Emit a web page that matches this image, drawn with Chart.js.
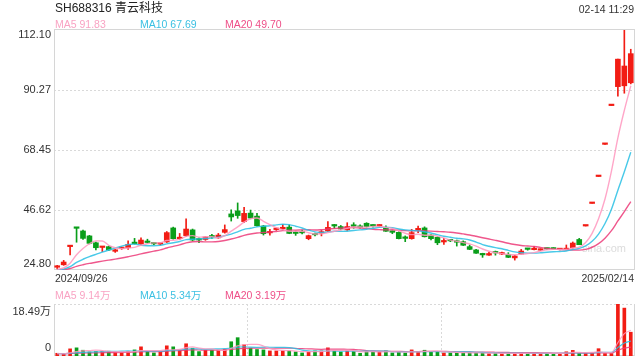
<!DOCTYPE html>
<html><head><meta charset="utf-8">
<script src="https://cdn.jsdelivr.net/npm/chart.js@4.4.1/dist/chart.umd.min.js"></script>
<style>
html,body{margin:0;padding:0;background:#fff;width:640px;height:360px;overflow:hidden;font-family:"Liberation Sans",Arial,"Noto Sans CJK SC",sans-serif;}
#wrap{position:relative;width:640px;height:360px;}
.t{position:absolute;white-space:nowrap;line-height:14px;height:14px;font-size:10.5px;color:#333;}
#pc{position:absolute;left:0;top:0;}
#vc{position:absolute;left:0;top:280px;}
</style></head><body>
<div id="wrap">
<canvas id="pc" width="640" height="280"></canvas>
<canvas id="vc" width="640" height="80"></canvas>
<div class="t" id="title" style="left:55px;top:1px;font-size:12px;color:#222"></div>
<div class="t" id="time" style="right:6px;top:2px;"></div>
<div class="t" id="pl0" style="left:55px;top:17px;"></div>
<div class="t" id="pl1" style="left:140px;top:17px;"></div>
<div class="t" id="pl2" style="left:225px;top:17px;"></div>
<div class="t" id="d0" style="left:55px;top:271px;"></div>
<div class="t" id="d1" style="right:6px;top:271px;"></div>
<div class="t" id="vl0" style="left:55px;top:288px;"></div>
<div class="t" id="vl1" style="left:140px;top:288px;"></div>
<div class="t" id="vl2" style="left:225px;top:288px;"></div>
</div>
<script>
const titleText = 'SH688316 青云科技';
const timeText = '02-14 11:29';
const priceLegend = ['MA5 91.83', 'MA10 67.69', 'MA20 49.70'];
const volLegend = ['MA5 9.14万', 'MA10 5.34万', 'MA20 3.19万'];
const maPeriods = [5, 10, 20];

const categories = ['2024/09/26','2024/09/27','2024/09/30',
'2024/10/08','2024/10/09','2024/10/10','2024/10/11','2024/10/14','2024/10/15','2024/10/16','2024/10/17','2024/10/18','2024/10/21','2024/10/22','2024/10/23','2024/10/24','2024/10/25','2024/10/28','2024/10/29','2024/10/30','2024/10/31',
'2024/11/01','2024/11/04','2024/11/05','2024/11/06','2024/11/07','2024/11/08','2024/11/11','2024/11/12','2024/11/13','2024/11/14','2024/11/15','2024/11/18','2024/11/19','2024/11/20','2024/11/21','2024/11/22','2024/11/25','2024/11/26','2024/11/27','2024/11/28','2024/11/29',
'2024/12/02','2024/12/03','2024/12/04','2024/12/05','2024/12/06','2024/12/09','2024/12/10','2024/12/11','2024/12/12','2024/12/13','2024/12/16','2024/12/17','2024/12/18','2024/12/19','2024/12/20','2024/12/23','2024/12/24','2024/12/25','2024/12/26','2024/12/27','2024/12/30','2024/12/31',
'2025/01/02','2025/01/03','2025/01/06','2025/01/07','2025/01/08','2025/01/09','2025/01/10','2025/01/13','2025/01/14','2025/01/15','2025/01/16','2025/01/17','2025/01/20','2025/01/21','2025/01/22','2025/01/23','2025/01/24','2025/01/27',
'2025/02/05','2025/02/06','2025/02/07','2025/02/10','2025/02/11','2025/02/12','2025/02/13','2025/02/14'];

const open = [25.8,26.7,33.3,40.0,39.0,37.2,34.7,33.0,33.3,31.6,32.6,32.9,34.6,34.3,35.0,34.5,34.2,35.0,40.1,36.2,
37.3,39.4,36.0,35.9,37.0,36.5,38.5,45.2,46.3,42.4,45.5,44.4,40.8,38.3,39.5,39.8,40.4,38.2,38.4,36.2,
37.7,38.2,39.0,41.0,40.6,39.4,40.9,40.4,41.8,40.9,40.8,40.2,38.6,38.5,36.4,36.2,39.4,40.1,37.5,36.7,
35.0,35.5,35.0,35.1,33.3,32.1,30.4,30.2,31.1,30.6,30.4,29.2,30.6,32.4,32.2,32.0,32.5,32.5,32.2,32.2,
32.9,35.9,40.8,49.0,58.8,70.5,84.6,91.5,91.8,92.9];
const high = [26.5,28.3,33.3,40.0,39.3,37.4,35.0,33.3,33.5,32.3,33.0,35.4,36.3,36.5,36.0,34.9,34.7,38.8,40.4,38.1,
43.4,39.7,36.5,37.0,37.8,38.1,41.2,46.7,49.2,47.6,46.6,45.4,41.0,39.6,40.1,41.4,41.2,39.0,39.3,37.5,
38.2,39.2,42.4,41.4,41.0,42.0,42.0,41.2,42.0,41.2,41.3,40.9,39.0,38.7,37.2,39.6,40.8,40.5,37.7,36.9,
36.3,35.9,35.7,35.4,33.9,32.3,30.9,31.3,31.7,31.3,31.1,30.1,32.3,32.7,33.3,32.5,32.8,32.9,32.7,33.9,
35.0,36.3,40.8,49.0,58.8,70.5,84.6,101.5,112.1,105.1];
const low = [25.2,26.5,30.3,34.9,35.9,34.3,32.1,31.5,31.9,31.2,32.3,32.3,34.2,34.1,34.6,34.0,33.9,34.8,36.0,35.9,
37.0,35.5,34.7,35.6,36.3,36.3,38.2,42.6,43.6,42.0,43.4,40.7,37.5,37.5,39.2,39.5,38.0,37.4,37.9,35.8,
37.2,37.2,38.8,40.0,39.4,39.2,40.0,40.0,40.4,40.4,40.5,38.8,38.0,36.1,35.1,36.0,38.4,36.8,35.7,34.0,
34.1,35.1,33.5,33.7,32.2,30.8,29.4,30.1,30.2,30.4,29.3,28.4,30.5,32.0,32.1,31.9,32.2,32.3,32.1,32.1,
32.7,34.0,40.8,49.0,58.8,70.5,84.6,88.0,89.1,92.5];
const close = [25.9,27.7,33.3,39.96,36.3,34.5,32.9,33.2,32.1,31.8,32.8,34.1,34.4,35.7,34.8,34.3,34.4,38.4,36.2,36.5,
39.7,35.7,35.7,36.8,36.8,37.5,39.5,44.1,44.6,45.4,43.7,40.9,38.0,38.6,39.8,40.0,38.1,38.1,38.3,37.3,
37.6,38.4,40.3,40.8,39.7,40.6,40.7,40.3,40.6,40.8,40.9,38.9,38.5,36.2,36.3,38.4,39.5,36.9,36.2,34.7,
35.1,35.4,34.9,33.8,32.3,30.9,30.3,30.8,31.0,30.7,29.4,29.9,31.7,32.3,32.3,32.1,32.4,32.4,32.3,32.3,
34.6,34.0,40.8,49.0,58.8,70.5,84.6,101.5,99.0,103.5];
// volume in 万
const volume = [0.97,0.72,2.54,2.90,2.05,1.45,1.57,1.69,1.69,1.21,1.21,1.57,2.17,3.26,1.57,1.09,1.57,3.62,3.26,2.17,
4.35,2.78,1.57,2.05,2.05,2.05,2.42,5.07,6.52,3.99,2.78,2.30,2.17,1.81,1.81,1.81,1.81,1.45,1.09,1.45,
1.81,1.81,2.90,1.81,1.45,1.81,1.69,0.97,1.57,1.57,1.57,1.81,1.09,1.33,1.09,2.17,1.57,2.05,1.57,1.57,
1.09,1.09,1.09,1.09,1.09,1.09,0.97,0.85,0.97,0.85,1.00,0.95,1.05,0.95,0.95,0.95,0.95,0.95,0.95,1.50,
2.00,0.90,0.85,1.10,2.60,0.85,0.85,18.49,17.03,8.46];
// closes / volumes of the 19 sessions before the window (seed for the moving averages)
const priorCloses = [24.9,24.6,24.8,24.7,24.5,24.9,24.8,24.6,24.7,24.8,24.9,24.6,24.5,24.7,24.8,24.9,24.7,24.6,24.9];
const priorVolumes = [0.8,0.7,0.8,0.9,0.7,0.8,0.7,0.8,0.9,0.8,0.7,0.8,0.8,0.7,0.9,0.8,0.7,0.8,0.8];

const priceTicks = [24.80, 46.62, 68.45, 90.27, 112.10];
const priceTickLabels = ['24.80', '46.62', '68.45', '90.27', '112.10'];
const volTicks = [0, 18.49];
const volTickLabels = ['0', '18.49万'];

const UP = '#f21c14', DOWN = '#0a9e1a';
const MA_COLORS = ['rgba(255,150,190,0.85)', 'rgba(40,192,228,0.85)', 'rgba(236,58,120,0.85)'];
const MA_TEXT = ['#f9a3c3', '#3cc0e2', '#ee4f88'];

function movingAvg(series, prior, n) {
  const all = prior.concat(series);
  return series.map((_, i) => {
    const end = prior.length + i;
    let s = 0;
    for (let k = end - n + 1; k <= end; k++) s += all[k];
    return s / n;
  });
}

document.getElementById('title').textContent = titleText;
document.getElementById('time').textContent = timeText;
document.getElementById('d0').textContent = categories[0];
document.getElementById('d1').textContent = categories[categories.length - 1];
priceLegend.forEach((t, i) => { const e = document.getElementById('pl' + i); e.textContent = t; e.style.color = MA_TEXT[i]; });
volLegend.forEach((t, i) => { const e = document.getElementById('vl' + i); e.textContent = t; e.style.color = MA_TEXT[i]; });

const colors = categories.map((_, i) => close[i] >= open[i] ? UP : DOWN);
const bodies = categories.map((_, i) => [open[i], close[i]]);
const wicks = categories.map((_, i) => [low[i], high[i]]);

const framePlugin = {
  id: 'frame',
  beforeDatasetsDraw(chart, args, o) {
    const { ctx, chartArea: a, scales: { x, y } } = chart;
    ctx.save();
    if (o.watermark) {
      ctx.font = '11px "Liberation Sans", Arial, sans-serif';
      ctx.fillStyle = 'rgba(190,190,190,0.55)';
      ctx.textAlign = 'left'; ctx.textBaseline = 'middle';
      ctx.fillText(o.watermark, a.right - 52, a.bottom - 21);
    }
    ctx.lineWidth = 1;
    ctx.strokeStyle = '#d9d9d9';
    ctx.setLineDash([2, 2]);
    o.hTicks.forEach(v => {
      const py = Math.round(y.getPixelForValue(v)) + 0.5;
      if (py > a.top + 1 && py < a.bottom - 1 || o.dotTop && Math.abs(py - a.top - 0.5) < 1) {
        ctx.beginPath(); ctx.moveTo(a.left, py); ctx.lineTo(a.right, py); ctx.stroke();
      }
    });
    o.vBreaks.forEach(i => {
      const px = Math.round((x.getPixelForValue(i - 1) + x.getPixelForValue(i)) / 2) + 0.5;
      ctx.beginPath(); ctx.moveTo(px, a.top); ctx.lineTo(px, a.bottom); ctx.stroke();
    });
    ctx.setLineDash([]);
    ctx.strokeStyle = '#d6d6d6';
    if (o.box) {
      ctx.strokeRect(a.left + 0.5, a.top - 0.5, a.right - a.left, a.bottom - a.top);
    } else {
      ctx.beginPath(); ctx.moveTo(a.left + 0.5, a.top); ctx.lineTo(a.left + 0.5, a.bottom);
      ctx.moveTo(a.right + 0.5, a.top); ctx.lineTo(a.right + 0.5, a.bottom);
      ctx.moveTo(a.left, a.bottom - 0.5); ctx.lineTo(a.right, a.bottom - 0.5); ctx.stroke();
    }
    ctx.restore();
  },
  afterDraw(chart, args, o) {
    const { ctx, chartArea: a, scales: { y } } = chart;
    ctx.save();
    ctx.font = '11px "Liberation Sans", Arial, "Noto Sans CJK SC", sans-serif';
    ctx.fillStyle = '#333';
    ctx.textAlign = 'right'; ctx.textBaseline = 'middle';
    const n = o.labelTicks.length;
    o.labelTicks.forEach((v, i) => {
      let py = y.getPixelForValue(v);
      if (i === 0) py += o.bottomShift; else if (i === n - 1) py += o.topShift; else py -= 0.5;
      ctx.fillText(o.labels[i], a.left - 3, py);
    });
    ctx.restore();
  }
};

const priceMA = maPeriods.map(n => movingAvg(close, priorCloses, n));
const volMA = maPeriods.map(n => movingAvg(volume, priorVolumes, n));

const lineDs = (data, i, w) => ({
  type: 'line', label: 'MA' + maPeriods[i], data, borderColor: MA_COLORS[i], borderWidth: w,
  pointRadius: 0, cubicInterpolationMode: 'monotone', fill: false, order: 0
});

new Chart(document.getElementById('pc'), {
  type: 'bar',
  data: {
    labels: categories,
    datasets: [
      lineDs(priceMA[0], 0, 1.4), lineDs(priceMA[1], 1, 1.4), lineDs(priceMA[2], 2, 1.4),
      { type: 'bar', label: 'body', data: bodies, backgroundColor: colors, barThickness: 5, minBarLength: 1.5, grouped: false, borderWidth: 0, order: 1 },
      { type: 'bar', label: 'wick', data: wicks, backgroundColor: colors, barThickness: 1, grouped: false, borderWidth: 0, order: 2 }
    ]
  },
  options: {
    responsive: false, animation: false, events: [],
    layout: { padding: { left: 54, right: 6, top: 30, bottom: 10 } },
    plugins: {
      legend: { display: false }, tooltip: { enabled: false },
      frame: { hTicks: priceTicks, vBreaks: [], box: true, watermark: 'sina.com',
               labelTicks: priceTicks, labels: priceTickLabels, topShift: 4.5, bottomShift: -6.5 }
    },
    scales: {
      x: { display: false, offset: true },
      y: { display: false, min: priceTicks[0], max: priceTicks[priceTicks.length - 1] }
    }
  },
  plugins: [framePlugin]
});

new Chart(document.getElementById('vc'), {
  type: 'bar',
  data: {
    labels: categories,
    datasets: [
      lineDs(volMA[0], 0, 1.2), lineDs(volMA[1], 1, 1.2), lineDs(volMA[2], 2, 1.2),
      { type: 'bar', label: 'volume', data: volume, backgroundColor: colors, barThickness: 3, borderWidth: 0, order: 1 }
    ]
  },
  options: {
    responsive: false, animation: false, events: [],
    layout: { padding: { left: 54, right: 6, top: 24, bottom: 4 } },
    plugins: {
      legend: { display: false }, tooltip: { enabled: false },
      frame: { hTicks: volTicks, dotTop: true, vBreaks: [30, 60], box: false,
               labelTicks: volTicks, labels: volTickLabels, topShift: 7.5, bottomShift: -8 }
    },
    scales: {
      x: { display: false, offset: true },
      y: { display: false, min: volTicks[0], max: volTicks[volTicks.length - 1] }
    }
  },
  plugins: [framePlugin]
});
</script>
</body></html>
